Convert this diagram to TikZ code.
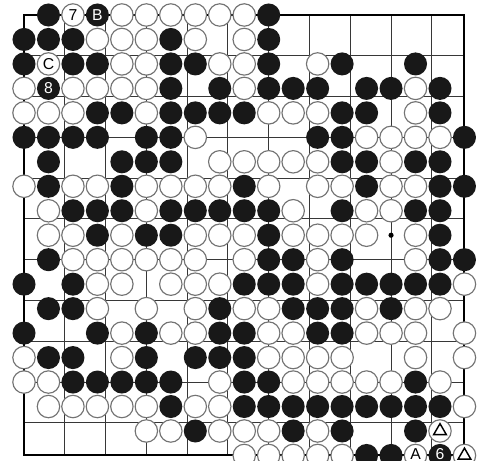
\documentclass[tikz,border=0pt]{standalone}
\usepackage{fontspec}
\setmainfont{Liberation Sans}
\usepackage{xcolor}
\usepackage{tikz}
\usetikzlibrary{shapes.geometric}
\definecolor{stoneblack}{RGB}{24, 24, 24}
\definecolor{stonerim}{RGB}{115, 115, 115}
\definecolor{gridgray}{RGB}{55, 55, 55}

\begin{document}
\begin{tikzpicture}[x=0.6cm, y=0.6cm,
  bstone/.style={circle, fill=stoneblack, minimum size=0.565cm, inner sep=0pt, text=white, font=\fontsize{11}{11}\selectfont},
  wstone/.style={circle, draw=stonerim, fill=white, line width=0.8pt, minimum size=0.55cm, inner sep=0pt, text=black, font=\fontsize{11}{11}\selectfont},
  hoshi/.style={circle, fill=black, minimum size=3.6pt, inner sep=0pt},
  tri/.style={regular polygon, regular polygon sides=3, draw=black, line width=1pt, minimum size=0.36cm, inner sep=0pt}
]
\useasboundingbox (-0.981, 0.613) rectangle (18.717, -18.186);

% Board Lines 19 x 19
\draw[color=gridgray, line width=0.6pt] (0,0) grid (18,-18);
\draw[color=black, line width=1.4pt] (0,0) rectangle (18,-18);
\node[hoshi] (h16-10) at (15,-9) {};

% Row 1
\foreach \c in {2,11} \node[bstone] (s\c-1) at (\c-1,0) {};
\foreach \c in {5,6,7,8,9,10} \node[wstone] (s\c-1) at (\c-1,0) {};
\node[wstone] (s3-1) at (2,0) {7};
\node[bstone] (s4-1) at (3,0) {B};

% Row 2
\foreach \c in {1,2,3,7,11} \node[bstone] (s\c-2) at (\c-1,-1) {};
\foreach \c in {4,5,6,8,10} \node[wstone] (s\c-2) at (\c-1,-1) {};

% Row 3
\foreach \c in {1,3,4,7,8,11,14,17} \node[bstone] (s\c-3) at (\c-1,-2) {};
\foreach \c in {5,6,9,10,13} \node[wstone] (s\c-3) at (\c-1,-2) {};
\node[wstone] (s2-3) at (1,-2) {C};

% Row 4
\foreach \c in {7,9,11,12,13,15,16,18} \node[bstone] (s\c-4) at (\c-1,-3) {};
\foreach \c in {1,3,4,5,6,10,17} \node[wstone] (s\c-4) at (\c-1,-3) {};
\node[bstone] (s2-4) at (1,-3) {8};

% Row 5
\foreach \c in {4,5,7,8,9,10,14,15,18} \node[bstone] (s\c-5) at (\c-1,-4) {};
\foreach \c in {1,2,3,6,11,12,13,17} \node[wstone] (s\c-5) at (\c-1,-4) {};

% Row 6
\foreach \c in {1,2,3,4,6,7,13,14,19} \node[bstone] (s\c-6) at (\c-1,-5) {};
\foreach \c in {8,15,16,17,18} \node[wstone] (s\c-6) at (\c-1,-5) {};

% Row 7
\foreach \c in {2,5,6,7,14,15,17,18} \node[bstone] (s\c-7) at (\c-1,-6) {};
\foreach \c in {9,10,11,12,13,16} \node[wstone] (s\c-7) at (\c-1,-6) {};

% Row 8
\foreach \c in {2,5,10,15,18,19} \node[bstone] (s\c-8) at (\c-1,-7) {};
\foreach \c in {1,3,4,6,7,8,9,11,13,14,16,17} \node[wstone] (s\c-8) at (\c-1,-7) {};

% Row 9
\foreach \c in {3,4,5,7,8,9,10,11,14,17,18} \node[bstone] (s\c-9) at (\c-1,-8) {};
\foreach \c in {2,6,12,15,16} \node[wstone] (s\c-9) at (\c-1,-8) {};

% Row 10
\foreach \c in {4,6,7,11,18} \node[bstone] (s\c-10) at (\c-1,-9) {};
\foreach \c in {2,3,5,8,9,10,12,13,14,15,17} \node[wstone] (s\c-10) at (\c-1,-9) {};

% Row 11
\foreach \c in {2,11,12,14,18,19} \node[bstone] (s\c-11) at (\c-1,-10) {};
\foreach \c in {3,4,5,6,7,8,10,13,17} \node[wstone] (s\c-11) at (\c-1,-10) {};

% Row 12
\foreach \c in {1,3,10,11,12,14,15,16,17,18} \node[bstone] (s\c-12) at (\c-1,-11) {};
\foreach \c in {4,5,7,8,9,13,19} \node[wstone] (s\c-12) at (\c-1,-11) {};

% Row 13
\foreach \c in {2,3,9,12,13,14,16} \node[bstone] (s\c-13) at (\c-1,-12) {};
\foreach \c in {4,6,8,10,11,15,17,18} \node[wstone] (s\c-13) at (\c-1,-12) {};

% Row 14
\foreach \c in {1,4,6,9,10,13,14} \node[bstone] (s\c-14) at (\c-1,-13) {};
\foreach \c in {5,7,8,11,12,15,16,17,19} \node[wstone] (s\c-14) at (\c-1,-13) {};

% Row 15
\foreach \c in {2,3,6,8,9,10} \node[bstone] (s\c-15) at (\c-1,-14) {};
\foreach \c in {1,5,11,12,13,14,17,19} \node[wstone] (s\c-15) at (\c-1,-14) {};

% Row 16
\foreach \c in {3,4,5,6,7,10,11,17} \node[bstone] (s\c-16) at (\c-1,-15) {};
\foreach \c in {1,2,9,12,13,14,15,16,18} \node[wstone] (s\c-16) at (\c-1,-15) {};

% Row 17
\foreach \c in {7,10,11,12,13,14,15,16,17,18} \node[bstone] (s\c-17) at (\c-1,-16) {};
\foreach \c in {2,3,4,5,6,8,9,19} \node[wstone] (s\c-17) at (\c-1,-16) {};

% Row 18
\foreach \c in {8,12,14,17} \node[bstone] (s\c-18) at (\c-1,-17) {};
\foreach \c in {6,7,9,10,11,13} \node[wstone] (s\c-18) at (\c-1,-17) {};
\node[wstone] (s18-18) at (17,-17) {};
\node[tri] (t18-18) at (s18-18) {};

% Row 19 (cut by the lower edge, labels lifted a little)
\foreach \c in {15,16} \node[bstone] (s\c-19) at (\c-1,-18) {};
\foreach \c in {10,11,12,13,14} \node[wstone] (s\c-19) at (\c-1,-18) {};
\node[wstone] (s17-19) at (16,-18) {\raisebox{2pt}{A}};
\node[bstone] (s18-19) at (17,-18) {\raisebox{2pt}{6}};
\node[wstone] (s19-19) at (18,-18) {};
\node[tri] (t19-19) at (s19-19) {};

\end{tikzpicture}
\end{document}
